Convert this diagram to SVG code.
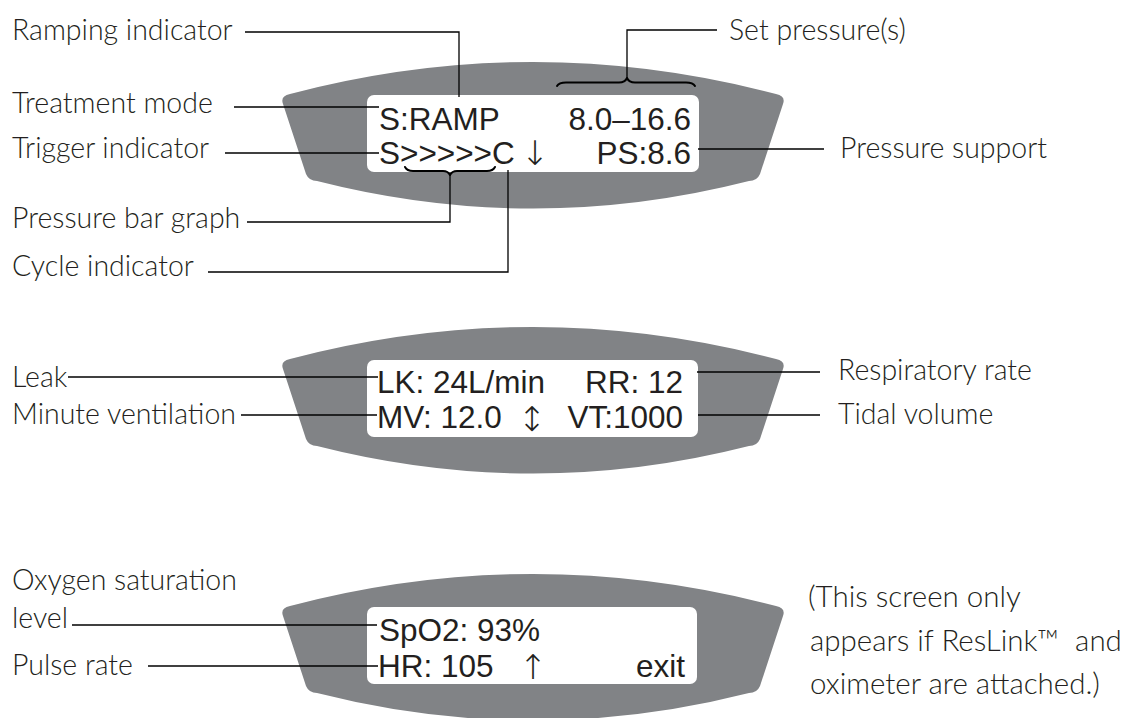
<svg xmlns="http://www.w3.org/2000/svg" width="1121" height="718" viewBox="0 0 1121 718">
<style>
.bg{fill:#ffffff}
.dev{fill:#818386}
.scr{fill:#ffffff}
.lcd{font-family:"Liberation Sans",Arial,sans-serif;font-size:31.5px;fill:#231f20}
.arw{font-family:"DejaVu Sans",sans-serif;font-weight:200;font-size:34px;fill:#231f20}
.lbl{font-family:Lato,"Open Sans",sans-serif;font-weight:300;font-size:28.5px;fill:#231f20}
.note{font-family:Lato,"Open Sans",sans-serif;font-weight:300;font-size:29.5px;fill:#231f20}
.ln{fill:none;stroke:#000000;stroke-width:1.3}
.br{fill:none;stroke:#000000;stroke-width:2;stroke-linecap:round;stroke-linejoin:round}
</style>
<defs>
<path id="devshape" d="M 290,94 Q 533,30 776,94 Q 786,96 783,104 L 760,174 Q 757,181 749,181 Q 533,236 317,181 Q 309,181 306,174 L 283,104 Q 280,96 290,94 Z"/>
</defs>
<rect class="bg" x="0" y="0" width="1121" height="718"/>

<g id="screen1">
<use href="#devshape" class="dev"/>
<rect class="scr" x="367" y="95" width="332" height="77" rx="7"/>
<text class="lcd" x="379" y="130">S:RAMP</text>
<text class="lcd" x="691" y="130" text-anchor="end">8.0–16.6</text>
<text class="lcd" x="379" y="164">S&gt;&gt;&gt;&gt;&gt;C</text>
<text class="arw" x="535" y="165" text-anchor="middle">↓</text>
<text class="lcd" x="691" y="164" text-anchor="end">PS:8.6</text>
</g>

<g id="screen2">
<use href="#devshape" class="dev" transform="translate(0,265)"/>
<rect class="scr" x="367" y="360" width="331" height="77" rx="7"/>
<text class="lcd" x="377" y="393">LK: 24L/min</text>
<text class="lcd" x="683" y="393" text-anchor="end">RR: 12</text>
<text class="lcd" x="377" y="428">MV: 12.0</text>
<text class="arw" x="532" y="431" text-anchor="middle">↕</text>
<text class="lcd" x="683" y="428" text-anchor="end">VT:1000</text>
</g>

<g id="screen3">
<use href="#devshape" class="dev" transform="translate(0,512)"/>
<rect class="scr" x="367" y="607" width="330" height="77" rx="7"/>
<text class="lcd" x="379" y="641">SpO2: 93%</text>
<text class="lcd" x="378" y="677">HR: 105</text>
<text class="arw" x="533" y="679" text-anchor="middle">↑</text>
<text class="lcd" x="685" y="677" text-anchor="end">exit</text>
</g>

<g id="labels">
<text id="l-ramp" class="lbl" x="12" y="40">Ramping indicator</text>
<text id="l-set" class="lbl" x="729" y="40">Set pressure(s)</text>
<text id="l-treat" class="lbl" x="12" y="113">Treatment mode</text>
<text id="l-trig" class="lbl" x="12" y="158">Trigger indicator</text>
<text id="l-ps" class="lbl" x="840" y="158">Pressure support</text>
<text id="l-bar" class="lbl" x="12" y="228">Pressure bar graph</text>
<text id="l-cyc" class="lbl" x="12" y="276">Cycle indicator</text>
<text id="l-leak" class="lbl" x="12" y="387">Leak</text>
<text id="l-mv" class="lbl" x="12" y="424">Minute ventilation</text>
<text id="l-rr" class="lbl" x="838" y="380">Respiratory rate</text>
<text id="l-vt" class="lbl" x="838" y="424">Tidal volume</text>
<text id="l-oxy1" class="lbl" x="12" y="590">Oxygen saturation</text>
<text id="l-oxy2" class="lbl" x="12" y="628">level</text>
<text id="l-hr" class="lbl" x="12" y="675">Pulse rate</text>
<text id="l-note1" class="note" x="808" y="607">(This screen only</text>
<text id="l-note2" class="note" x="810" y="651" xml:space="preserve">appears if ResLink™  and</text>
<text id="l-note3" class="note" x="810" y="694">oximeter are attached.)</text>
</g>

<g id="connectors">
<polyline class="ln" points="245,32 459,32 459,97"/>
<polyline class="ln" points="717,30 627,30 627,78"/>
<path class="br" d="M557,86 Q559,82.5 566,82.5 L619,82.5 Q625,82.5 627,78 Q629,82.5 635,82.5 L686,82.5 Q693,82.5 695,86"/>
<line class="ln" x1="234" y1="107" x2="379" y2="107"/>
<line class="ln" x1="225" y1="153" x2="379" y2="153"/>
<line class="ln" x1="698" y1="149" x2="824" y2="149"/>
<polyline class="ln" points="247,222 450,222 450,175"/>
<path class="br" d="M405,167 Q407,171 413,171 L443,171 Q448,171 450,175 Q452,171 457,171 L487,171 Q493,171 495,167"/>
<polyline class="ln" points="208,272 508,272 508,170"/>
<line class="ln" x1="68" y1="377" x2="378" y2="377"/>
<line class="ln" x1="241" y1="415" x2="377" y2="415"/>
<line class="ln" x1="697" y1="372" x2="820" y2="372"/>
<line class="ln" x1="698" y1="415" x2="820" y2="415"/>
<line class="ln" x1="72" y1="625" x2="377" y2="625"/>
<line class="ln" x1="148" y1="666" x2="378" y2="666"/>
</g>
</svg>
